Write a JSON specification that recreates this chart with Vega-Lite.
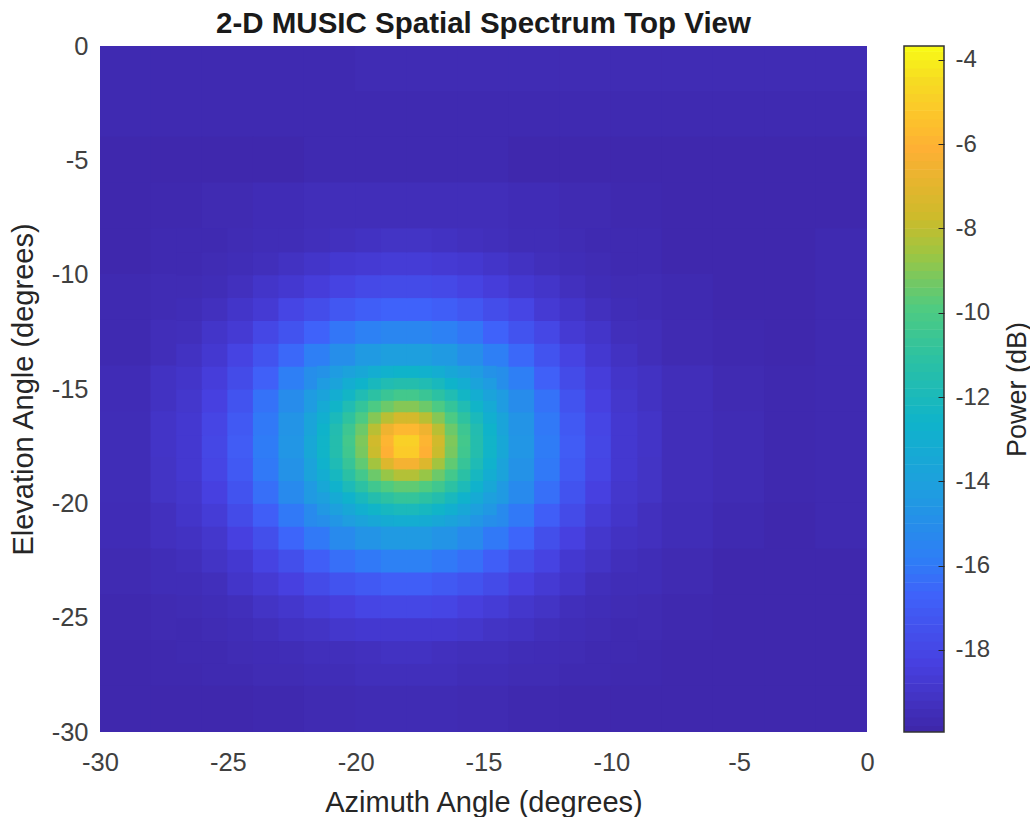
{"$schema":"https://vega.github.io/schema/vega-lite/v6.json","background":"white","padding":{"left":9,"top":8,"right":0,"bottom":0},"spacing":28,"config":{"font":"Liberation Sans","view":{"stroke":null},"axis":{"grid":false,"labelFont":"Liberation Sans","titleFont":"Liberation Sans"}},"resolve":{"scale":{"color":"shared"}},"hconcat":[{"width":767,"height":686,"title":{"text":"2-D MUSIC Spatial Spectrum Top View","font":"Liberation Sans","fontSize":29.5,"fontWeight":"bold","color":"#1a1a1a","offset":-5},"encoding":{"x":{"field":"a","type":"quantitative","scale":{"domain":[-30,0],"nice":false,"zero":false},"axis":{"title":"Azimuth Angle (degrees)","values":[-30,-25,-20,-15,-10,-5,0],"labelExpr":"''+datum.value","ticks":false,"domain":false,"labelFontSize":25.5,"titleFontSize":29,"titleFontWeight":"normal","labelColor":"#404040","titleColor":"#262626","labelPadding":18,"titlePadding":12.5,"labelFlush":false}},"y":{"field":"e","type":"quantitative","scale":{"domain":[-30,0],"nice":false,"zero":false},"axis":{"title":"Elevation Angle (degrees)","values":[-30,-25,-20,-15,-10,-5,0],"labelExpr":"''+datum.value","ticks":false,"domain":false,"labelFontSize":25.5,"titleFontSize":29,"titleFontWeight":"normal","labelColor":"#404040","titleColor":"#262626","labelPadding":12,"titlePadding":13,"labelFlush":false}},"color":{"field":"p","type":"quantitative","legend":null,"scale":{"interpolate":"rgb","domain":[-19.95,-18.32,-16.69,-15.88,-14.25,-12.62,-11,-9.86,-8.55,-7.74,-6.93,-6.11,-5.3,-4.48,-3.67],"range":["#3e26a8","#4740e0","#3f62fa","#2f7df6","#1f9de0","#0fb3cb","#2ec2a0","#50cb80","#a0c540","#cdbb2b","#e5b52e","#feb034","#fcc52b","#f6dc22","#f9fb15"]}}},"layer":[{"mark":{"type":"rect","width":52.4,"height":47,"clip":true},"data":{"values":[
{"a":-29,"e":-1,"p":-19.7},{"a":-27,"e":-1,"p":-19.7},{"a":-25,"e":-1,"p":-19.7},{"a":-23,"e":-1,"p":-19.7},{"a":-21,"e":-1,"p":-19.7},{"a":-19,"e":-1,"p":-19.6},{"a":-17,"e":-1,"p":-19.6},{"a":-15,"e":-1,"p":-19.6},{"a":-13,"e":-1,"p":-19.6},{"a":-11,"e":-1,"p":-19.6},{"a":-9,"e":-1,"p":-19.6},{"a":-7,"e":-1,"p":-19.6},{"a":-5,"e":-1,"p":-19.6},{"a":-3,"e":-1,"p":-19.6},{"a":-1,"e":-1,"p":-19.6},
{"a":-29,"e":-3,"p":-19.7},{"a":-27,"e":-3,"p":-19.7},{"a":-25,"e":-3,"p":-19.7},{"a":-23,"e":-3,"p":-19.7},{"a":-21,"e":-3,"p":-19.7},{"a":-19,"e":-3,"p":-19.7},{"a":-17,"e":-3,"p":-19.7},{"a":-15,"e":-3,"p":-19.7},{"a":-13,"e":-3,"p":-19.7},{"a":-11,"e":-3,"p":-19.7},{"a":-9,"e":-3,"p":-19.7},{"a":-7,"e":-3,"p":-19.7},{"a":-5,"e":-3,"p":-19.7},{"a":-3,"e":-3,"p":-19.7},{"a":-1,"e":-3,"p":-19.7},
{"a":-29,"e":-5,"p":-19.8},{"a":-27,"e":-5,"p":-19.8},{"a":-25,"e":-5,"p":-19.8},{"a":-23,"e":-5,"p":-19.8},{"a":-21,"e":-5,"p":-19.7},{"a":-19,"e":-5,"p":-19.7},{"a":-17,"e":-5,"p":-19.7},{"a":-15,"e":-5,"p":-19.7},{"a":-13,"e":-5,"p":-19.8},{"a":-11,"e":-5,"p":-19.8},{"a":-9,"e":-5,"p":-19.8},{"a":-7,"e":-5,"p":-19.8},{"a":-5,"e":-5,"p":-19.8},{"a":-3,"e":-5,"p":-19.8},{"a":-1,"e":-5,"p":-19.8},
{"a":-29,"e":-7,"p":-19.8},{"a":-27,"e":-7,"p":-19.75},{"a":-25,"e":-7,"p":-19.65},{"a":-23,"e":-7,"p":-19.55},{"a":-21,"e":-7,"p":-19.45},{"a":-19,"e":-7,"p":-19.45},{"a":-17,"e":-7,"p":-19.45},{"a":-15,"e":-7,"p":-19.45},{"a":-13,"e":-7,"p":-19.55},{"a":-11,"e":-7,"p":-19.65},{"a":-9,"e":-7,"p":-19.75},{"a":-7,"e":-7,"p":-19.8},{"a":-5,"e":-7,"p":-19.8},{"a":-3,"e":-7,"p":-19.8},{"a":-1,"e":-7,"p":-19.8},
{"a":-29,"e":-9,"p":-19.8},{"a":-27,"e":-9,"p":-19.7},{"a":-9,"e":-9,"p":-19.7},{"a":-7,"e":-9,"p":-19.8},{"a":-5,"e":-9,"p":-19.8},{"a":-3,"e":-9,"p":-19.8},{"a":-1,"e":-9,"p":-19.7},
{"a":-29,"e":-11,"p":-19.7},{"a":-27,"e":-11,"p":-19.6},{"a":-9,"e":-11,"p":-19.6},{"a":-7,"e":-11,"p":-19.7},{"a":-5,"e":-11,"p":-19.8},{"a":-3,"e":-11,"p":-19.8},{"a":-1,"e":-11,"p":-19.7},
{"a":-29,"e":-13,"p":-19.7},{"a":-27,"e":-13,"p":-19.45},{"a":-9,"e":-13,"p":-19.45},{"a":-7,"e":-13,"p":-19.65},{"a":-5,"e":-13,"p":-19.75},{"a":-3,"e":-13,"p":-19.8},{"a":-1,"e":-13,"p":-19.7},
{"a":-29,"e":-15,"p":-19.55},{"a":-27,"e":-15,"p":-19.2},{"a":-9,"e":-15,"p":-19.2},{"a":-7,"e":-15,"p":-19.45},{"a":-5,"e":-15,"p":-19.65},{"a":-3,"e":-15,"p":-19.75},{"a":-1,"e":-15,"p":-19.7},
{"a":-29,"e":-17,"p":-19.5},{"a":-27,"e":-17,"p":-19.05},{"a":-9,"e":-17,"p":-19.05},{"a":-7,"e":-17,"p":-19.45},{"a":-5,"e":-17,"p":-19.6},{"a":-3,"e":-17,"p":-19.75},{"a":-1,"e":-17,"p":-19.7},
{"a":-29,"e":-19,"p":-19.5},{"a":-27,"e":-19,"p":-19.1},{"a":-9,"e":-19,"p":-19.1},{"a":-7,"e":-19,"p":-19.45},{"a":-5,"e":-19,"p":-19.6},{"a":-3,"e":-19,"p":-19.75},{"a":-1,"e":-19,"p":-19.7},
{"a":-29,"e":-21,"p":-19.55},{"a":-27,"e":-21,"p":-19.3},{"a":-9,"e":-21,"p":-19.3},{"a":-7,"e":-21,"p":-19.5},{"a":-5,"e":-21,"p":-19.7},{"a":-3,"e":-21,"p":-19.8},{"a":-1,"e":-21,"p":-19.7},
{"a":-29,"e":-23,"p":-19.65},{"a":-27,"e":-23,"p":-19.5},{"a":-9,"e":-23,"p":-19.5},{"a":-7,"e":-23,"p":-19.65},{"a":-5,"e":-23,"p":-19.8},{"a":-3,"e":-23,"p":-19.8},{"a":-1,"e":-23,"p":-19.8},
{"a":-29,"e":-25,"p":-19.75},{"a":-27,"e":-25,"p":-19.65},{"a":-9,"e":-25,"p":-19.65},{"a":-7,"e":-25,"p":-19.75},{"a":-5,"e":-25,"p":-19.8},{"a":-3,"e":-25,"p":-19.8},{"a":-1,"e":-25,"p":-19.8},
{"a":-29,"e":-27,"p":-19.8},{"a":-27,"e":-27,"p":-19.75},{"a":-25,"e":-27,"p":-19.7},{"a":-23,"e":-27,"p":-19.6},{"a":-21,"e":-27,"p":-19.5},{"a":-19,"e":-27,"p":-19.4},{"a":-17,"e":-27,"p":-19.4},{"a":-15,"e":-27,"p":-19.5},{"a":-13,"e":-27,"p":-19.6},{"a":-11,"e":-27,"p":-19.7},{"a":-9,"e":-27,"p":-19.75},{"a":-7,"e":-27,"p":-19.8},{"a":-5,"e":-27,"p":-19.8},{"a":-3,"e":-27,"p":-19.8},{"a":-1,"e":-27,"p":-19.8},
{"a":-29,"e":-29,"p":-19.8},{"a":-27,"e":-29,"p":-19.8},{"a":-25,"e":-29,"p":-19.8},{"a":-23,"e":-29,"p":-19.75},{"a":-21,"e":-29,"p":-19.65},{"a":-19,"e":-29,"p":-19.6},{"a":-17,"e":-29,"p":-19.6},{"a":-15,"e":-29,"p":-19.65},{"a":-13,"e":-29,"p":-19.75},{"a":-11,"e":-29,"p":-19.8},{"a":-9,"e":-29,"p":-19.8},{"a":-7,"e":-29,"p":-19.8},{"a":-5,"e":-29,"p":-19.8},{"a":-3,"e":-29,"p":-19.8},{"a":-1,"e":-29,"p":-19.8}
]}},{"mark":{"type":"rect","width":26.6,"height":24,"clip":true},"data":{"values":[
{"a":-26.5,"e":-26.5,"p":-19.7},{"a":-25.5,"e":-26.5,"p":-19.7},{"a":-24.5,"e":-26.5,"p":-19.6},{"a":-23.5,"e":-26.5,"p":-19.55},{"a":-22.5,"e":-26.5,"p":-19.5},{"a":-21.5,"e":-26.5,"p":-19.4},{"a":-20.5,"e":-26.5,"p":-19.4},{"a":-19.5,"e":-26.5,"p":-19.3},{"a":-18.5,"e":-26.5,"p":-19.2},{"a":-17.5,"e":-26.5,"p":-19.2},{"a":-16.5,"e":-26.5,"p":-19.3},{"a":-15.5,"e":-26.5,"p":-19.4},{"a":-14.5,"e":-26.5,"p":-19.4},{"a":-13.5,"e":-26.5,"p":-19.5},{"a":-12.5,"e":-26.5,"p":-19.55},{"a":-11.5,"e":-26.5,"p":-19.6},{"a":-10.5,"e":-26.5,"p":-19.7},{"a":-9.5,"e":-26.5,"p":-19.7},
{"a":-26.5,"e":-25.5,"p":-19.7},{"a":-25.5,"e":-25.5,"p":-19.6},{"a":-24.5,"e":-25.5,"p":-19.5},{"a":-23.5,"e":-25.5,"p":-19.4},{"a":-22.5,"e":-25.5,"p":-19.2},{"a":-21.5,"e":-25.5,"p":-19.1},{"a":-20.5,"e":-25.5,"p":-18.9},{"a":-19.5,"e":-25.5,"p":-18.8},{"a":-18.5,"e":-25.5,"p":-18.8},{"a":-17.5,"e":-25.5,"p":-18.8},{"a":-16.5,"e":-25.5,"p":-18.8},{"a":-15.5,"e":-25.5,"p":-18.9},{"a":-14.5,"e":-25.5,"p":-19.1},{"a":-13.5,"e":-25.5,"p":-19.2},{"a":-12.5,"e":-25.5,"p":-19.4},{"a":-11.5,"e":-25.5,"p":-19.5},{"a":-10.5,"e":-25.5,"p":-19.6},{"a":-9.5,"e":-25.5,"p":-19.7},
{"a":-26.5,"e":-24.5,"p":-19.6},{"a":-25.5,"e":-24.5,"p":-19.5},{"a":-24.5,"e":-24.5,"p":-19.4},{"a":-23.5,"e":-24.5,"p":-19.1},{"a":-22.5,"e":-24.5,"p":-18.9},{"a":-21.5,"e":-24.5,"p":-18.6},{"a":-20.5,"e":-24.5,"p":-18.4},{"a":-19.5,"e":-24.5,"p":-18.1},{"a":-18.5,"e":-24.5,"p":-18},{"a":-17.5,"e":-24.5,"p":-18},{"a":-16.5,"e":-24.5,"p":-18.1},{"a":-15.5,"e":-24.5,"p":-18.4},{"a":-14.5,"e":-24.5,"p":-18.6},{"a":-13.5,"e":-24.5,"p":-18.9},{"a":-12.5,"e":-24.5,"p":-19.1},{"a":-11.5,"e":-24.5,"p":-19.4},{"a":-10.5,"e":-24.5,"p":-19.5},{"a":-9.5,"e":-24.5,"p":-19.6},
{"a":-26.5,"e":-23.5,"p":-19.5},{"a":-25.5,"e":-23.5,"p":-19.4},{"a":-24.5,"e":-23.5,"p":-19},{"a":-23.5,"e":-23.5,"p":-18.7},{"a":-22.5,"e":-23.5,"p":-18.3},{"a":-21.5,"e":-23.5,"p":-17.8},{"a":-20.5,"e":-23.5,"p":-17.4},{"a":-19.5,"e":-23.5,"p":-17.1},{"a":-18.5,"e":-23.5,"p":-16.9},{"a":-17.5,"e":-23.5,"p":-16.9},{"a":-16.5,"e":-23.5,"p":-17.1},{"a":-15.5,"e":-23.5,"p":-17.4},{"a":-14.5,"e":-23.5,"p":-17.8},{"a":-13.5,"e":-23.5,"p":-18.3},{"a":-12.5,"e":-23.5,"p":-18.7},{"a":-11.5,"e":-23.5,"p":-19},{"a":-10.5,"e":-23.5,"p":-19.4},{"a":-9.5,"e":-23.5,"p":-19.5},
{"a":-26.5,"e":-22.5,"p":-19.4},{"a":-25.5,"e":-22.5,"p":-19.1},{"a":-24.5,"e":-22.5,"p":-18.8},{"a":-23.5,"e":-22.5,"p":-18.2},{"a":-22.5,"e":-22.5,"p":-17.6},{"a":-21.5,"e":-22.5,"p":-16.9},{"a":-20.5,"e":-22.5,"p":-16.3},{"a":-19.5,"e":-22.5,"p":-16},{"a":-18.5,"e":-22.5,"p":-15.7},{"a":-17.5,"e":-22.5,"p":-15.7},{"a":-16.5,"e":-22.5,"p":-16},{"a":-15.5,"e":-22.5,"p":-16.3},{"a":-14.5,"e":-22.5,"p":-16.9},{"a":-13.5,"e":-22.5,"p":-17.6},{"a":-12.5,"e":-22.5,"p":-18.2},{"a":-11.5,"e":-22.5,"p":-18.8},{"a":-10.5,"e":-22.5,"p":-19.1},{"a":-9.5,"e":-22.5,"p":-19.4},
{"a":-26.5,"e":-21.5,"p":-19.2},{"a":-25.5,"e":-21.5,"p":-18.9},{"a":-24.5,"e":-21.5,"p":-18.3},{"a":-23.5,"e":-21.5,"p":-17.6},{"a":-22.5,"e":-21.5,"p":-16.6},{"a":-21.5,"e":-21.5,"p":-16},{"a":-20.5,"e":-21.5,"p":-15.2},{"a":-19.5,"e":-21.5,"p":-14.7},{"a":-18.5,"e":-21.5,"p":-14.4},{"a":-17.5,"e":-21.5,"p":-14.4},{"a":-16.5,"e":-21.5,"p":-14.7},{"a":-15.5,"e":-21.5,"p":-15.2},{"a":-14.5,"e":-21.5,"p":-16},{"a":-13.5,"e":-21.5,"p":-16.6},{"a":-12.5,"e":-21.5,"p":-17.6},{"a":-11.5,"e":-21.5,"p":-18.3},{"a":-10.5,"e":-21.5,"p":-18.9},{"a":-9.5,"e":-21.5,"p":-19.2},
{"a":-26.5,"e":-20.5,"p":-19},{"a":-25.5,"e":-20.5,"p":-18.6},{"a":-24.5,"e":-20.5,"p":-17.8},{"a":-23.5,"e":-20.5,"p":-16.9},{"a":-22.5,"e":-20.5,"p":-16},{"a":-21.5,"e":-20.5,"p":-15.2},{"a":-14.5,"e":-20.5,"p":-15.2},{"a":-13.5,"e":-20.5,"p":-16},{"a":-12.5,"e":-20.5,"p":-16.9},{"a":-11.5,"e":-20.5,"p":-17.8},{"a":-10.5,"e":-20.5,"p":-18.6},{"a":-9.5,"e":-20.5,"p":-19},
{"a":-26.5,"e":-19.5,"p":-18.9},{"a":-25.5,"e":-19.5,"p":-18.3},{"a":-24.5,"e":-19.5,"p":-17.4},{"a":-23.5,"e":-19.5,"p":-16.3},{"a":-22.5,"e":-19.5,"p":-15.2},{"a":-21.5,"e":-19.5,"p":-14.4},{"a":-14.5,"e":-19.5,"p":-14.4},{"a":-13.5,"e":-19.5,"p":-15.2},{"a":-12.5,"e":-19.5,"p":-16.3},{"a":-11.5,"e":-19.5,"p":-17.4},{"a":-10.5,"e":-19.5,"p":-18.3},{"a":-9.5,"e":-19.5,"p":-18.9},
{"a":-26.5,"e":-18.5,"p":-18.8},{"a":-25.5,"e":-18.5,"p":-18.1},{"a":-24.5,"e":-18.5,"p":-17.1},{"a":-23.5,"e":-18.5,"p":-16},{"a":-22.5,"e":-18.5,"p":-14.8},{"a":-21.5,"e":-18.5,"p":-13.8},{"a":-14.5,"e":-18.5,"p":-13.8},{"a":-13.5,"e":-18.5,"p":-14.8},{"a":-12.5,"e":-18.5,"p":-16},{"a":-11.5,"e":-18.5,"p":-17.1},{"a":-10.5,"e":-18.5,"p":-18.1},{"a":-9.5,"e":-18.5,"p":-18.8},
{"a":-26.5,"e":-17.5,"p":-18.8},{"a":-25.5,"e":-17.5,"p":-18},{"a":-24.5,"e":-17.5,"p":-17},{"a":-23.5,"e":-17.5,"p":-15.9},{"a":-22.5,"e":-17.5,"p":-14.6},{"a":-21.5,"e":-17.5,"p":-13.5},{"a":-14.5,"e":-17.5,"p":-13.5},{"a":-13.5,"e":-17.5,"p":-14.6},{"a":-12.5,"e":-17.5,"p":-15.9},{"a":-11.5,"e":-17.5,"p":-17},{"a":-10.5,"e":-17.5,"p":-18},{"a":-9.5,"e":-17.5,"p":-18.8},
{"a":-26.5,"e":-16.5,"p":-18.8},{"a":-25.5,"e":-16.5,"p":-18.1},{"a":-24.5,"e":-16.5,"p":-17.1},{"a":-23.5,"e":-16.5,"p":-16},{"a":-22.5,"e":-16.5,"p":-14.7},{"a":-21.5,"e":-16.5,"p":-13.7},{"a":-14.5,"e":-16.5,"p":-13.7},{"a":-13.5,"e":-16.5,"p":-14.7},{"a":-12.5,"e":-16.5,"p":-16},{"a":-11.5,"e":-16.5,"p":-17.1},{"a":-10.5,"e":-16.5,"p":-18.1},{"a":-9.5,"e":-16.5,"p":-18.8},
{"a":-26.5,"e":-15.5,"p":-18.9},{"a":-25.5,"e":-15.5,"p":-18.3},{"a":-24.5,"e":-15.5,"p":-17.4},{"a":-23.5,"e":-15.5,"p":-16.2},{"a":-22.5,"e":-15.5,"p":-15.1},{"a":-21.5,"e":-15.5,"p":-14.3},{"a":-14.5,"e":-15.5,"p":-14.3},{"a":-13.5,"e":-15.5,"p":-15.1},{"a":-12.5,"e":-15.5,"p":-16.2},{"a":-11.5,"e":-15.5,"p":-17.4},{"a":-10.5,"e":-15.5,"p":-18.3},{"a":-9.5,"e":-15.5,"p":-18.9},
{"a":-26.5,"e":-14.5,"p":-19},{"a":-25.5,"e":-14.5,"p":-18.5},{"a":-24.5,"e":-14.5,"p":-17.8},{"a":-23.5,"e":-14.5,"p":-16.8},{"a":-22.5,"e":-14.5,"p":-15.8},{"a":-21.5,"e":-14.5,"p":-15},{"a":-14.5,"e":-14.5,"p":-15},{"a":-13.5,"e":-14.5,"p":-15.8},{"a":-12.5,"e":-14.5,"p":-16.8},{"a":-11.5,"e":-14.5,"p":-17.8},{"a":-10.5,"e":-14.5,"p":-18.5},{"a":-9.5,"e":-14.5,"p":-19},
{"a":-26.5,"e":-13.5,"p":-19.2},{"a":-25.5,"e":-13.5,"p":-18.8},{"a":-24.5,"e":-13.5,"p":-18.2},{"a":-23.5,"e":-13.5,"p":-17.4},{"a":-22.5,"e":-13.5,"p":-16.5},{"a":-21.5,"e":-13.5,"p":-15.8},{"a":-20.5,"e":-13.5,"p":-15},{"a":-19.5,"e":-13.5,"p":-14.4},{"a":-18.5,"e":-13.5,"p":-14.1},{"a":-17.5,"e":-13.5,"p":-14.1},{"a":-16.5,"e":-13.5,"p":-14.4},{"a":-15.5,"e":-13.5,"p":-15},{"a":-14.5,"e":-13.5,"p":-15.8},{"a":-13.5,"e":-13.5,"p":-16.5},{"a":-12.5,"e":-13.5,"p":-17.4},{"a":-11.5,"e":-13.5,"p":-18.2},{"a":-10.5,"e":-13.5,"p":-18.8},{"a":-9.5,"e":-13.5,"p":-19.2},
{"a":-26.5,"e":-12.5,"p":-19.4},{"a":-25.5,"e":-12.5,"p":-19},{"a":-24.5,"e":-12.5,"p":-18.7},{"a":-23.5,"e":-12.5,"p":-18},{"a":-22.5,"e":-12.5,"p":-17.4},{"a":-21.5,"e":-12.5,"p":-16.7},{"a":-20.5,"e":-12.5,"p":-16.1},{"a":-19.5,"e":-12.5,"p":-15.7},{"a":-18.5,"e":-12.5,"p":-15.4},{"a":-17.5,"e":-12.5,"p":-15.4},{"a":-16.5,"e":-12.5,"p":-15.7},{"a":-15.5,"e":-12.5,"p":-16.1},{"a":-14.5,"e":-12.5,"p":-16.7},{"a":-13.5,"e":-12.5,"p":-17.4},{"a":-12.5,"e":-12.5,"p":-18},{"a":-11.5,"e":-12.5,"p":-18.7},{"a":-10.5,"e":-12.5,"p":-19},{"a":-9.5,"e":-12.5,"p":-19.4},
{"a":-26.5,"e":-11.5,"p":-19.5},{"a":-25.5,"e":-11.5,"p":-19.3},{"a":-24.5,"e":-11.5,"p":-19},{"a":-23.5,"e":-11.5,"p":-18.7},{"a":-22.5,"e":-11.5,"p":-18.1},{"a":-21.5,"e":-11.5,"p":-17.7},{"a":-20.5,"e":-11.5,"p":-17.2},{"a":-19.5,"e":-11.5,"p":-16.9},{"a":-18.5,"e":-11.5,"p":-16.7},{"a":-17.5,"e":-11.5,"p":-16.7},{"a":-16.5,"e":-11.5,"p":-16.9},{"a":-15.5,"e":-11.5,"p":-17.2},{"a":-14.5,"e":-11.5,"p":-17.7},{"a":-13.5,"e":-11.5,"p":-18.1},{"a":-12.5,"e":-11.5,"p":-18.7},{"a":-11.5,"e":-11.5,"p":-19},{"a":-10.5,"e":-11.5,"p":-19.3},{"a":-9.5,"e":-11.5,"p":-19.5},
{"a":-26.5,"e":-10.5,"p":-19.6},{"a":-25.5,"e":-10.5,"p":-19.5},{"a":-24.5,"e":-10.5,"p":-19.3},{"a":-23.5,"e":-10.5,"p":-19},{"a":-22.5,"e":-10.5,"p":-18.8},{"a":-21.5,"e":-10.5,"p":-18.5},{"a":-20.5,"e":-10.5,"p":-18.2},{"a":-19.5,"e":-10.5,"p":-17.9},{"a":-18.5,"e":-10.5,"p":-17.8},{"a":-17.5,"e":-10.5,"p":-17.8},{"a":-16.5,"e":-10.5,"p":-17.9},{"a":-15.5,"e":-10.5,"p":-18.2},{"a":-14.5,"e":-10.5,"p":-18.5},{"a":-13.5,"e":-10.5,"p":-18.8},{"a":-12.5,"e":-10.5,"p":-19},{"a":-11.5,"e":-10.5,"p":-19.3},{"a":-10.5,"e":-10.5,"p":-19.5},{"a":-9.5,"e":-10.5,"p":-19.6},
{"a":-26.5,"e":-9.5,"p":-19.7},{"a":-25.5,"e":-9.5,"p":-19.6},{"a":-24.5,"e":-9.5,"p":-19.5},{"a":-23.5,"e":-9.5,"p":-19.4},{"a":-22.5,"e":-9.5,"p":-19.2},{"a":-21.5,"e":-9.5,"p":-19},{"a":-20.5,"e":-9.5,"p":-18.8},{"a":-19.5,"e":-9.5,"p":-18.7},{"a":-18.5,"e":-9.5,"p":-18.6},{"a":-17.5,"e":-9.5,"p":-18.6},{"a":-16.5,"e":-9.5,"p":-18.7},{"a":-15.5,"e":-9.5,"p":-18.8},{"a":-14.5,"e":-9.5,"p":-19},{"a":-13.5,"e":-9.5,"p":-19.2},{"a":-12.5,"e":-9.5,"p":-19.4},{"a":-11.5,"e":-9.5,"p":-19.5},{"a":-10.5,"e":-9.5,"p":-19.6},{"a":-9.5,"e":-9.5,"p":-19.7},
{"a":-26.5,"e":-8.5,"p":-19.7},{"a":-25.5,"e":-8.5,"p":-19.7},{"a":-24.5,"e":-8.5,"p":-19.6},{"a":-23.5,"e":-8.5,"p":-19.5},{"a":-22.5,"e":-8.5,"p":-19.5},{"a":-21.5,"e":-8.5,"p":-19.4},{"a":-20.5,"e":-8.5,"p":-19.3},{"a":-19.5,"e":-8.5,"p":-19.2},{"a":-18.5,"e":-8.5,"p":-19.1},{"a":-17.5,"e":-8.5,"p":-19.1},{"a":-16.5,"e":-8.5,"p":-19.2},{"a":-15.5,"e":-8.5,"p":-19.3},{"a":-14.5,"e":-8.5,"p":-19.4},{"a":-13.5,"e":-8.5,"p":-19.5},{"a":-12.5,"e":-8.5,"p":-19.5},{"a":-11.5,"e":-8.5,"p":-19.6},{"a":-10.5,"e":-8.5,"p":-19.7},{"a":-9.5,"e":-8.5,"p":-19.7}
]}},{"mark":{"type":"rect","width":13.6,"height":12.2,"clip":true},"data":{"values":[
{"a":-21.25,"e":-20.75,"p":-15},{"a":-20.75,"e":-20.75,"p":-14.6},{"a":-20.25,"e":-20.75,"p":-14.2},{"a":-19.75,"e":-20.75,"p":-13.8},{"a":-19.25,"e":-20.75,"p":-13.5},{"a":-18.75,"e":-20.75,"p":-13.2},{"a":-18.25,"e":-20.75,"p":-13.1},{"a":-17.75,"e":-20.75,"p":-13.1},{"a":-17.25,"e":-20.75,"p":-13.2},{"a":-16.75,"e":-20.75,"p":-13.5},{"a":-16.25,"e":-20.75,"p":-13.8},{"a":-15.75,"e":-20.75,"p":-14.2},{"a":-15.25,"e":-20.75,"p":-14.6},{"a":-14.75,"e":-20.75,"p":-15},
{"a":-21.25,"e":-20.25,"p":-14.5},{"a":-20.75,"e":-20.25,"p":-14},{"a":-20.25,"e":-20.25,"p":-13.5},{"a":-19.75,"e":-20.25,"p":-12.9},{"a":-19.25,"e":-20.25,"p":-12.5},{"a":-18.75,"e":-20.25,"p":-12.2},{"a":-18.25,"e":-20.25,"p":-12},{"a":-17.75,"e":-20.25,"p":-12},{"a":-17.25,"e":-20.25,"p":-12.2},{"a":-16.75,"e":-20.25,"p":-12.5},{"a":-16.25,"e":-20.25,"p":-12.9},{"a":-15.75,"e":-20.25,"p":-13.5},{"a":-15.25,"e":-20.25,"p":-14},{"a":-14.75,"e":-20.25,"p":-14.5},
{"a":-21.25,"e":-19.75,"p":-14},{"a":-20.75,"e":-19.75,"p":-13.3},{"a":-20.25,"e":-19.75,"p":-12.7},{"a":-19.75,"e":-19.75,"p":-12.1},{"a":-19.25,"e":-19.75,"p":-11.5},{"a":-18.75,"e":-19.75,"p":-11.1},{"a":-18.25,"e":-19.75,"p":-10.8},{"a":-17.75,"e":-19.75,"p":-10.8},{"a":-17.25,"e":-19.75,"p":-11.1},{"a":-16.75,"e":-19.75,"p":-11.5},{"a":-16.25,"e":-19.75,"p":-12.1},{"a":-15.75,"e":-19.75,"p":-12.7},{"a":-15.25,"e":-19.75,"p":-13.3},{"a":-14.75,"e":-19.75,"p":-14},
{"a":-21.25,"e":-19.25,"p":-13.5},{"a":-20.75,"e":-19.25,"p":-12.7},{"a":-20.25,"e":-19.25,"p":-11.9},{"a":-19.75,"e":-19.25,"p":-11.1},{"a":-19.25,"e":-19.25,"p":-10.4},{"a":-18.75,"e":-19.25,"p":-9.9},{"a":-18.25,"e":-19.25,"p":-9.6},{"a":-17.75,"e":-19.25,"p":-9.6},{"a":-17.25,"e":-19.25,"p":-9.9},{"a":-16.75,"e":-19.25,"p":-10.4},{"a":-16.25,"e":-19.25,"p":-11.1},{"a":-15.75,"e":-19.25,"p":-11.9},{"a":-15.25,"e":-19.25,"p":-12.7},{"a":-14.75,"e":-19.25,"p":-13.5},
{"a":-21.25,"e":-18.75,"p":-13.1},{"a":-20.75,"e":-18.75,"p":-12.2},{"a":-20.25,"e":-18.75,"p":-11.2},{"a":-19.75,"e":-18.75,"p":-10.3},{"a":-19.25,"e":-18.75,"p":-9.4},{"a":-18.75,"e":-18.75,"p":-8.7},{"a":-18.25,"e":-18.75,"p":-8.2},{"a":-17.75,"e":-18.75,"p":-8.2},{"a":-17.25,"e":-18.75,"p":-8.7},{"a":-16.75,"e":-18.75,"p":-9.4},{"a":-16.25,"e":-18.75,"p":-10.3},{"a":-15.75,"e":-18.75,"p":-11.2},{"a":-15.25,"e":-18.75,"p":-12.2},{"a":-14.75,"e":-18.75,"p":-13.1},
{"a":-21.25,"e":-18.25,"p":-12.7},{"a":-20.75,"e":-18.25,"p":-11.8},{"a":-20.25,"e":-18.25,"p":-10.7},{"a":-19.75,"e":-18.25,"p":-9.6},{"a":-19.25,"e":-18.25,"p":-8.5},{"a":-18.75,"e":-18.25,"p":-7.2},{"a":-18.25,"e":-18.25,"p":-6.4},{"a":-17.75,"e":-18.25,"p":-6.4},{"a":-17.25,"e":-18.25,"p":-7.2},{"a":-16.75,"e":-18.25,"p":-8.5},{"a":-16.25,"e":-18.25,"p":-9.6},{"a":-15.75,"e":-18.25,"p":-10.7},{"a":-15.25,"e":-18.25,"p":-11.8},{"a":-14.75,"e":-18.25,"p":-12.7},
{"a":-21.25,"e":-17.75,"p":-12.5},{"a":-20.75,"e":-17.75,"p":-11.5},{"a":-20.25,"e":-17.75,"p":-10.4},{"a":-19.75,"e":-17.75,"p":-9.2},{"a":-19.25,"e":-17.75,"p":-7.8},{"a":-18.75,"e":-17.75,"p":-6.1},{"a":-18.25,"e":-17.75,"p":-5.1},{"a":-17.75,"e":-17.75,"p":-5.1},{"a":-17.25,"e":-17.75,"p":-6.1},{"a":-16.75,"e":-17.75,"p":-7.8},{"a":-16.25,"e":-17.75,"p":-9.2},{"a":-15.75,"e":-17.75,"p":-10.4},{"a":-15.25,"e":-17.75,"p":-11.5},{"a":-14.75,"e":-17.75,"p":-12.5},
{"a":-21.25,"e":-17.25,"p":-12.5},{"a":-20.75,"e":-17.25,"p":-11.5},{"a":-20.25,"e":-17.25,"p":-10.3},{"a":-19.75,"e":-17.25,"p":-9.1},{"a":-19.25,"e":-17.25,"p":-7.6},{"a":-18.75,"e":-17.25,"p":-5.9},{"a":-18.25,"e":-17.25,"p":-4.9},{"a":-17.75,"e":-17.25,"p":-4.9},{"a":-17.25,"e":-17.25,"p":-5.9},{"a":-16.75,"e":-17.25,"p":-7.6},{"a":-16.25,"e":-17.25,"p":-9.1},{"a":-15.75,"e":-17.25,"p":-10.3},{"a":-15.25,"e":-17.25,"p":-11.5},{"a":-14.75,"e":-17.25,"p":-12.5},
{"a":-21.25,"e":-16.75,"p":-12.6},{"a":-20.75,"e":-16.75,"p":-11.6},{"a":-20.25,"e":-16.75,"p":-10.5},{"a":-19.75,"e":-16.75,"p":-9.4},{"a":-19.25,"e":-16.75,"p":-8.1},{"a":-18.75,"e":-16.75,"p":-6.6},{"a":-18.25,"e":-16.75,"p":-5.8},{"a":-17.75,"e":-16.75,"p":-5.8},{"a":-17.25,"e":-16.75,"p":-6.6},{"a":-16.75,"e":-16.75,"p":-8.1},{"a":-16.25,"e":-16.75,"p":-9.4},{"a":-15.75,"e":-16.75,"p":-10.5},{"a":-15.25,"e":-16.75,"p":-11.6},{"a":-14.75,"e":-16.75,"p":-12.6},
{"a":-21.25,"e":-16.25,"p":-12.9},{"a":-20.75,"e":-16.25,"p":-12},{"a":-20.25,"e":-16.25,"p":-11},{"a":-19.75,"e":-16.25,"p":-10},{"a":-19.25,"e":-16.25,"p":-9},{"a":-18.75,"e":-16.25,"p":-8.1},{"a":-18.25,"e":-16.25,"p":-7.5},{"a":-17.75,"e":-16.25,"p":-7.5},{"a":-17.25,"e":-16.25,"p":-8.1},{"a":-16.75,"e":-16.25,"p":-9},{"a":-16.25,"e":-16.25,"p":-10},{"a":-15.75,"e":-16.25,"p":-11},{"a":-15.25,"e":-16.25,"p":-12},{"a":-14.75,"e":-16.25,"p":-12.9},
{"a":-21.25,"e":-15.75,"p":-13.3},{"a":-20.75,"e":-15.75,"p":-12.5},{"a":-20.25,"e":-15.75,"p":-11.7},{"a":-19.75,"e":-15.75,"p":-10.8},{"a":-19.25,"e":-15.75,"p":-10},{"a":-18.75,"e":-15.75,"p":-9.4},{"a":-18.25,"e":-15.75,"p":-9},{"a":-17.75,"e":-15.75,"p":-9},{"a":-17.25,"e":-15.75,"p":-9.4},{"a":-16.75,"e":-15.75,"p":-10},{"a":-16.25,"e":-15.75,"p":-10.8},{"a":-15.75,"e":-15.75,"p":-11.7},{"a":-15.25,"e":-15.75,"p":-12.5},{"a":-14.75,"e":-15.75,"p":-13.3},
{"a":-21.25,"e":-15.25,"p":-13.8},{"a":-20.75,"e":-15.25,"p":-13.1},{"a":-20.25,"e":-15.25,"p":-12.4},{"a":-19.75,"e":-15.25,"p":-11.7},{"a":-19.25,"e":-15.25,"p":-11.1},{"a":-18.75,"e":-15.25,"p":-10.6},{"a":-18.25,"e":-15.25,"p":-10.3},{"a":-17.75,"e":-15.25,"p":-10.3},{"a":-17.25,"e":-15.25,"p":-10.6},{"a":-16.75,"e":-15.25,"p":-11.1},{"a":-16.25,"e":-15.25,"p":-11.7},{"a":-15.75,"e":-15.25,"p":-12.4},{"a":-15.25,"e":-15.25,"p":-13.1},{"a":-14.75,"e":-15.25,"p":-13.8},
{"a":-21.25,"e":-14.75,"p":-14.3},{"a":-20.75,"e":-14.75,"p":-13.8},{"a":-20.25,"e":-14.75,"p":-13.1},{"a":-19.75,"e":-14.75,"p":-12.6},{"a":-19.25,"e":-14.75,"p":-12.1},{"a":-18.75,"e":-14.75,"p":-11.7},{"a":-18.25,"e":-14.75,"p":-11.5},{"a":-17.75,"e":-14.75,"p":-11.5},{"a":-17.25,"e":-14.75,"p":-11.7},{"a":-16.75,"e":-14.75,"p":-12.1},{"a":-16.25,"e":-14.75,"p":-12.6},{"a":-15.75,"e":-14.75,"p":-13.1},{"a":-15.25,"e":-14.75,"p":-13.8},{"a":-14.75,"e":-14.75,"p":-14.3},
{"a":-21.25,"e":-14.25,"p":-14.8},{"a":-20.75,"e":-14.25,"p":-14.3},{"a":-20.25,"e":-14.25,"p":-13.9},{"a":-19.75,"e":-14.25,"p":-13.5},{"a":-19.25,"e":-14.25,"p":-13.1},{"a":-18.75,"e":-14.25,"p":-12.8},{"a":-18.25,"e":-14.25,"p":-12.6},{"a":-17.75,"e":-14.25,"p":-12.6},{"a":-17.25,"e":-14.25,"p":-12.8},{"a":-16.75,"e":-14.25,"p":-13.1},{"a":-16.25,"e":-14.25,"p":-13.5},{"a":-15.75,"e":-14.25,"p":-13.9},{"a":-15.25,"e":-14.25,"p":-14.3},{"a":-14.75,"e":-14.25,"p":-14.8}
]}}]},{"width":40,"height":686,"layer":[{"data":{"values":[{"p":-19.9},{"p":-19.7},{"p":-19.5},{"p":-19.3},{"p":-19.1},{"p":-18.9},{"p":-18.7},{"p":-18.5},{"p":-18.3},{"p":-18.1},{"p":-17.9},{"p":-17.7},{"p":-17.5},{"p":-17.3},{"p":-17.1},{"p":-16.9},{"p":-16.7},{"p":-16.5},{"p":-16.3},{"p":-16.1},{"p":-15.9},{"p":-15.7},{"p":-15.5},{"p":-15.3},{"p":-15.1},{"p":-14.9},{"p":-14.7},{"p":-14.5},{"p":-14.3},{"p":-14.1},{"p":-13.9},{"p":-13.7},{"p":-13.5},{"p":-13.3},{"p":-13.1},{"p":-12.9},{"p":-12.7},{"p":-12.5},{"p":-12.3},{"p":-12.1},{"p":-11.9},{"p":-11.7},{"p":-11.5},{"p":-11.3},{"p":-11.1},{"p":-10.9},{"p":-10.7},{"p":-10.5},{"p":-10.3},{"p":-10.1},{"p":-9.9},{"p":-9.7},{"p":-9.5},{"p":-9.3},{"p":-9.1},{"p":-8.9},{"p":-8.7},{"p":-8.5},{"p":-8.3},{"p":-8.1},{"p":-7.9},{"p":-7.7},{"p":-7.5},{"p":-7.3},{"p":-7.1},{"p":-6.9},{"p":-6.7},{"p":-6.5},{"p":-6.3},{"p":-6.1},{"p":-5.9},{"p":-5.7},{"p":-5.5},{"p":-5.3},{"p":-5.1},{"p":-4.9},{"p":-4.7},{"p":-4.5},{"p":-4.3},{"p":-4.1},{"p":-3.9},{"p":-3.7}]},"mark":{"type":"rect","height":9,"clip":true},"encoding":{"x":{"datum":0,"type":"quantitative","scale":{"domain":[0,1]},"axis":null},"x2":{"datum":1},"y":{"field":"p","type":"quantitative","scale":{"domain":[-19.95,-3.67],"nice":false,"zero":false},"axis":{"orient":"right","title":"Power (dB)","titleAngle":-90,"titleX":87,"titleY":343,"values":[-18,-16,-14,-12,-10,-8,-6,-4],"labelExpr":"''+datum.value","tickSize":-6,"tickColor":"#262626","zindex":1,"domain":false,"labelFontSize":24,"titleFontSize":27,"titleFontWeight":"normal","labelColor":"#404040","titleColor":"#262626","labelPadding":17}},"color":{"field":"p","type":"quantitative"}}},{"data":{"values":[{"x0":0,"x1":1,"y0":-19.95,"y1":-3.67}]},"mark":{"type":"rect","filled":false,"stroke":"#333333","strokeWidth":1.5},"encoding":{"x":{"field":"x0","type":"quantitative","scale":{"domain":[0,1]},"axis":null},"x2":{"field":"x1"},"y":{"field":"y0","type":"quantitative"},"y2":{"field":"y1"}}}]}]}
